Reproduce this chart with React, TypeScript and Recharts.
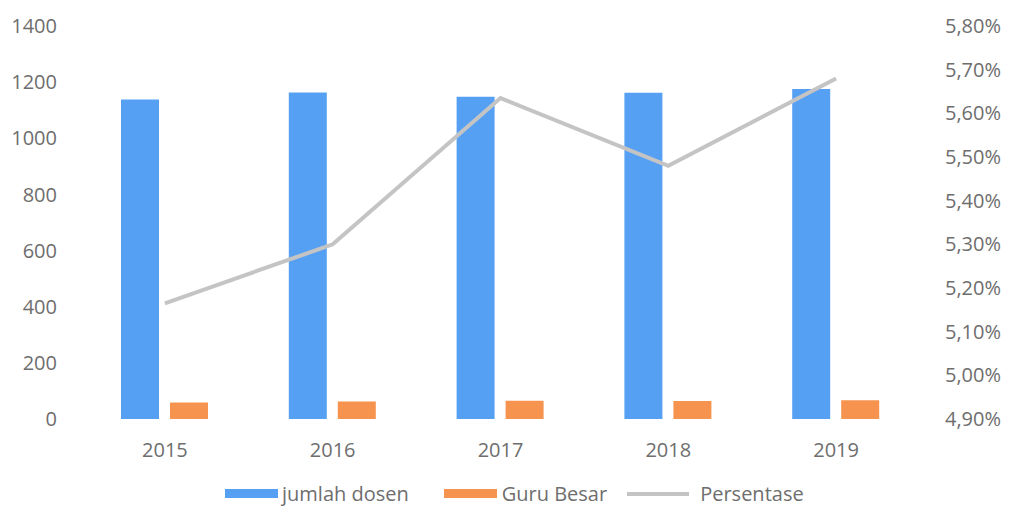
import { ComposedChart, Bar, Line, XAxis, YAxis, Legend } from "recharts"

const years = ["2015", "2016", "2017", "2018", "2019"]
const jumlahDosen = [1138, 1163, 1148, 1162, 1176]
const guruBesar = [59, 62, 65, 64, 67]
const persentase = [5.165, 5.3, 5.635, 5.48, 5.68]

const leftTicks = [0, 200, 400, 600, 800, 1000, 1200, 1400]
const rightTicks = [4.9, 5.0, 5.1, 5.2, 5.3, 5.4, 5.5, 5.6, 5.7, 5.8]

const BLUE = "#56a0f4"
const ORANGE = "#f6934f"
const GREY = "#c4c4c4"
const TEXT = "#6e6e6e"
const FONT = "'Open Sans', sans-serif"

const data = years.map((year, i) => ({
  year,
  dosen: jumlahDosen[i],
  guru: guruBesar[i],
  pct: persentase[i],
}))

const fmtPct = (v: number) => v.toFixed(2).replace(".", ",") + "%"

function LegendRow() {
  const item = (
    label: string,
    icon: React.ReactNode,
    textGap: number,
    gapAfter: number,
  ) => (
    <div style={{ display: "flex", alignItems: "center", marginRight: gapAfter }}>
      {icon}
      <span style={{ marginLeft: textGap, color: TEXT, fontSize: 20, fontFamily: FONT }}>
        {label}
      </span>
    </div>
  )
  return (
    <div style={{ display: "flex", alignItems: "center", paddingLeft: 225 }}>
      {item("jumlah dosen", <div style={{ width: 53, height: 9, background: BLUE }} />, 4, 35)}
      {item("Guru Besar", <div style={{ width: 53, height: 9, background: ORANGE }} />, 5, 20)}
      {item("Persentase", <div style={{ width: 62, height: 4, background: GREY }} />, 11, 0)}
    </div>
  )
}

export default function App() {
  return (
    <div style={{ position: "absolute", left: 0, top: 0, background: "#fff" }}>
      <ComposedChart
        width={1011}
        height={506}
        data={data}
        margin={{ top: 26, right: 0, bottom: 0, left: 0 }}
        barSize={38}
        barGap={11}
      >
        <XAxis
          dataKey="year"
          height={87}
          axisLine={false}
          tickLine={false}
          tickSize={0}
          tickMargin={24}
          tick={{ fill: TEXT, fontSize: 20, fontFamily: FONT }}
        />
        <YAxis
          yAxisId="left"
          orientation="left"
          width={81}
          domain={[0, 1400]}
          ticks={leftTicks}
          axisLine={false}
          tickLine={false}
          tickSize={0}
          tickMargin={24}
          tick={{ fill: TEXT, fontSize: 20, fontFamily: FONT }}
        />
        <YAxis
          yAxisId="right"
          orientation="right"
          width={91}
          domain={[4.9, 5.8]}
          ticks={rightTicks}
          tickFormatter={fmtPct}
          axisLine={false}
          tickLine={false}
          tickSize={0}
          tickMargin={25}
          tick={{ fill: TEXT, fontSize: 20, fontFamily: FONT, textAnchor: "start" }}
        />
        <Bar yAxisId="left" dataKey="dosen" name="jumlah dosen" fill={BLUE} isAnimationActive={false} />
        <Bar yAxisId="left" dataKey="guru" name="Guru Besar" fill={ORANGE} isAnimationActive={false} />
        <Line
          yAxisId="right"
          dataKey="pct"
          name="Persentase"
          stroke={GREY}
          strokeWidth={4}
          dot={false}
          type="linear"
          isAnimationActive={false}
        />
        <Legend
          layout="horizontal"
          verticalAlign="middle"
          align="center"
          wrapperStyle={{ top: 480, left: 0, width: 1011 }}
          content={() => <LegendRow />}
        />
      </ComposedChart>
    </div>
  )
}
